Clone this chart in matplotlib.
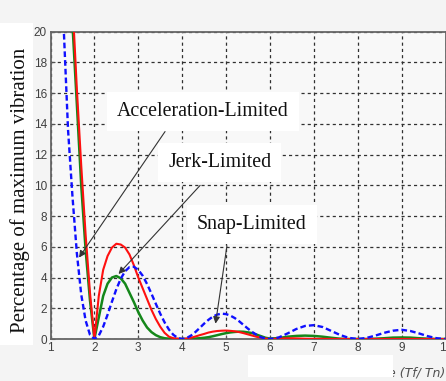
import matplotlib
matplotlib.use('Agg')
import matplotlib.pyplot as plt
from matplotlib.patches import Rectangle

# ── Data ─────────────────────────────────────────────────────────────────────
ratio = [1.2, 1.3, 1.4, 1.5, 1.6, 1.7, 1.8, 1.9, 2.0,
         2.1, 2.2, 2.3, 2.4, 2.5, 2.6, 2.7, 2.8, 2.9, 3.0,
         3.1, 3.2, 3.3, 3.4, 3.5, 3.6, 3.7, 3.8, 3.9, 4.0,
         4.1, 4.2, 4.3, 4.4, 4.5, 4.6, 4.7, 4.8, 4.9, 5.0,
         5.1, 5.2, 5.3, 5.4, 5.5, 5.6, 5.7, 5.8, 5.9, 6.0,
         6.2, 6.4, 6.6, 6.8, 7.0, 7.2, 7.4, 7.6, 7.8, 8.0,
         8.2, 8.4, 8.6, 8.8, 9.0, 9.2, 9.4, 9.6, 9.8, 10.0]

accel_limited = [27.0, 20.3, 13.6, 9.3, 5.6, 2.9, 1.2, 0.27, 0.0,
                 0.22, 0.80, 1.58, 2.43, 3.24, 3.92, 4.41, 4.68, 4.70, 4.50,
                 4.12, 3.58, 2.95, 2.29, 1.65, 1.08, 0.61, 0.27, 0.07, 0.0,
                 0.06, 0.22, 0.45, 0.72, 1.00, 1.25, 1.46, 1.59, 1.65, 1.62,
                 1.52, 1.36, 1.15, 0.91, 0.67, 0.45, 0.26, 0.11, 0.03, 0.0,
                 0.10, 0.36, 0.65, 0.85, 0.90, 0.78, 0.52, 0.26, 0.07, 0.0,
                 0.07, 0.22, 0.40, 0.54, 0.60, 0.52, 0.36, 0.18, 0.05, 0.0]

jerk_limited = [40.0, 33.0, 27.5, 22.0, 16.3, 11.3, 6.8, 3.0, 0.0,
                2.8, 4.5, 5.4, 5.95, 6.2, 6.15, 5.95, 5.5, 4.8, 4.0,
                3.3, 2.6, 1.9, 1.3, 0.8, 0.4, 0.15, 0.05, 0.02, 0.0,
                0.03, 0.08, 0.16, 0.25, 0.33, 0.42, 0.48, 0.52, 0.54, 0.55,
                0.53, 0.50, 0.45, 0.38, 0.30, 0.22, 0.14, 0.08, 0.03, 0.0,
                0.02, 0.05, 0.04, 0.02, 0.01, 0.01, 0.0, 0.0, 0.0, 0.0,
                0.0, 0.0, 0.0, 0.0, 0.0, 0.0, 0.0, 0.0, 0.0, 0.0]

snap_limited = [38.0, 31.0, 25.5, 20.5, 15.3, 10.0, 5.8, 2.5, 0.0,
                1.4, 2.8, 3.6, 4.0, 4.1, 3.95, 3.6, 3.0, 2.4, 1.75,
                1.2, 0.75, 0.45, 0.25, 0.12, 0.05, 0.02, 0.0, 0.0, 0.0,
                0.01, 0.02, 0.03, 0.05, 0.08, 0.12, 0.18, 0.25, 0.32, 0.38,
                0.43, 0.46, 0.48, 0.47, 0.43, 0.38, 0.28, 0.18, 0.08, 0.03,
                0.06, 0.15, 0.20, 0.22, 0.20, 0.15, 0.08, 0.02, 0.0, 0.0,
                0.0, 0.02, 0.05, 0.09, 0.10, 0.09, 0.05, 0.02, 0.0, 0.0]

x_ticks = [1, 2, 3, 4, 5, 6, 7, 8, 9, 10]
y_ticks = [0, 2, 4, 6, 8, 10, 12, 14, 16, 18, 20]

# ── Style ────────────────────────────────────────────────────────────────────
BG      = '#f4f4f4'
AX_BG   = '#f8f8f8'
SERIF   = 'Liberation Serif'
SANS    = 'Liberation Sans'
W, H    = 446, 381

fig = plt.figure(figsize=(W / 100, H / 100), dpi=100)
fig.patch.set_facecolor(BG)

# white panel behind the y label
fig.patches.append(Rectangle((0, (H - 345) / H), 33 / W, (345 - 23) / H,
                             transform=fig.transFigure, facecolor='white',
                             edgecolor='none', zorder=0))

ax = fig.add_axes([50.5 / W, (H - 339) / H, 395 / W, (339 - 31.7) / H])
ax.set_facecolor(AX_BG)

ax.plot(ratio, snap_limited, color='#15871a', lw=1.8, zorder=3)
ax.plot(ratio, jerk_limited, color='#ff1010', lw=1.5, zorder=4)
ax.plot(ratio, accel_limited, color='#1010ff', lw=1.7,
        linestyle=(0, (2.4, 1.3)), zorder=5)

ax.set_xlim(1, 10)
ax.set_ylim(0, 20)
ax.set_xticks(x_ticks)
ax.set_yticks(y_ticks)
ax.grid(True, color='#303030', lw=0.9, linestyle=(0, (2.5, 2.5)))
ax.set_axisbelow(True)
ax.tick_params(direction='in', length=3, color='#555', labelsize=8.5,
               labelcolor='#404040', pad=2.5)
for lbl in ax.get_xticklabels() + ax.get_yticklabels():
    lbl.set_fontfamily(SANS)
for sp in ax.spines.values():
    sp.set_color('#666666')
    sp.set_linewidth(1.3)

# ── Annotations ──────────────────────────────────────────────────────────────
def label(x, y, s):
    ax.text(x, y, s, fontsize=14.3, fontfamily=SERIF, color='#111111',
            ha='center', va='center', zorder=7,
            bbox=dict(boxstyle='square,pad=0.5', facecolor='white',
                      edgecolor='none'))

def pointer(x0, y0, x1, y1):
    ax.annotate('', xy=(x1, y1), xytext=(x0, y0), zorder=6,
                arrowprops=dict(arrowstyle='-|>', color='#333333', lw=0.8,
                                mutation_scale=10, shrinkA=0, shrinkB=0))

label(4.47, 14.8, 'Acceleration-Limited')
label(4.86, 11.47, 'Jerk-Limited')
label(5.59, 7.43, 'Snap-Limited')
pointer(3.61, 13.5, 1.65, 5.3)
pointer(4.41, 10.0, 2.55, 4.23)
pointer(5.02, 6.06, 4.76, 1.0)

# ── Axis titles ──────────────────────────────────────────────────────────────
fig.text(20 / W, (H - 190) / H, 'Percentage of maximum vibration',
         rotation=90, fontsize=15, fontfamily=SERIF, color='#111111',
         ha='center', va='center', zorder=2)

fig.text(445 / W, (H - 373) / H, 'e (Tf/ Tn)', fontsize=9, style='italic',
         fontfamily='DejaVu Sans', color='#505050', ha='right', va='center',
         zorder=2)
fig.patches.append(Rectangle((248 / W, (H - 377) / H), (393 - 248) / W, 22 / H,
                             transform=fig.transFigure, facecolor='white',
                             edgecolor='none', zorder=10))

fig.savefig('out.png', dpi=100, facecolor=BG)
